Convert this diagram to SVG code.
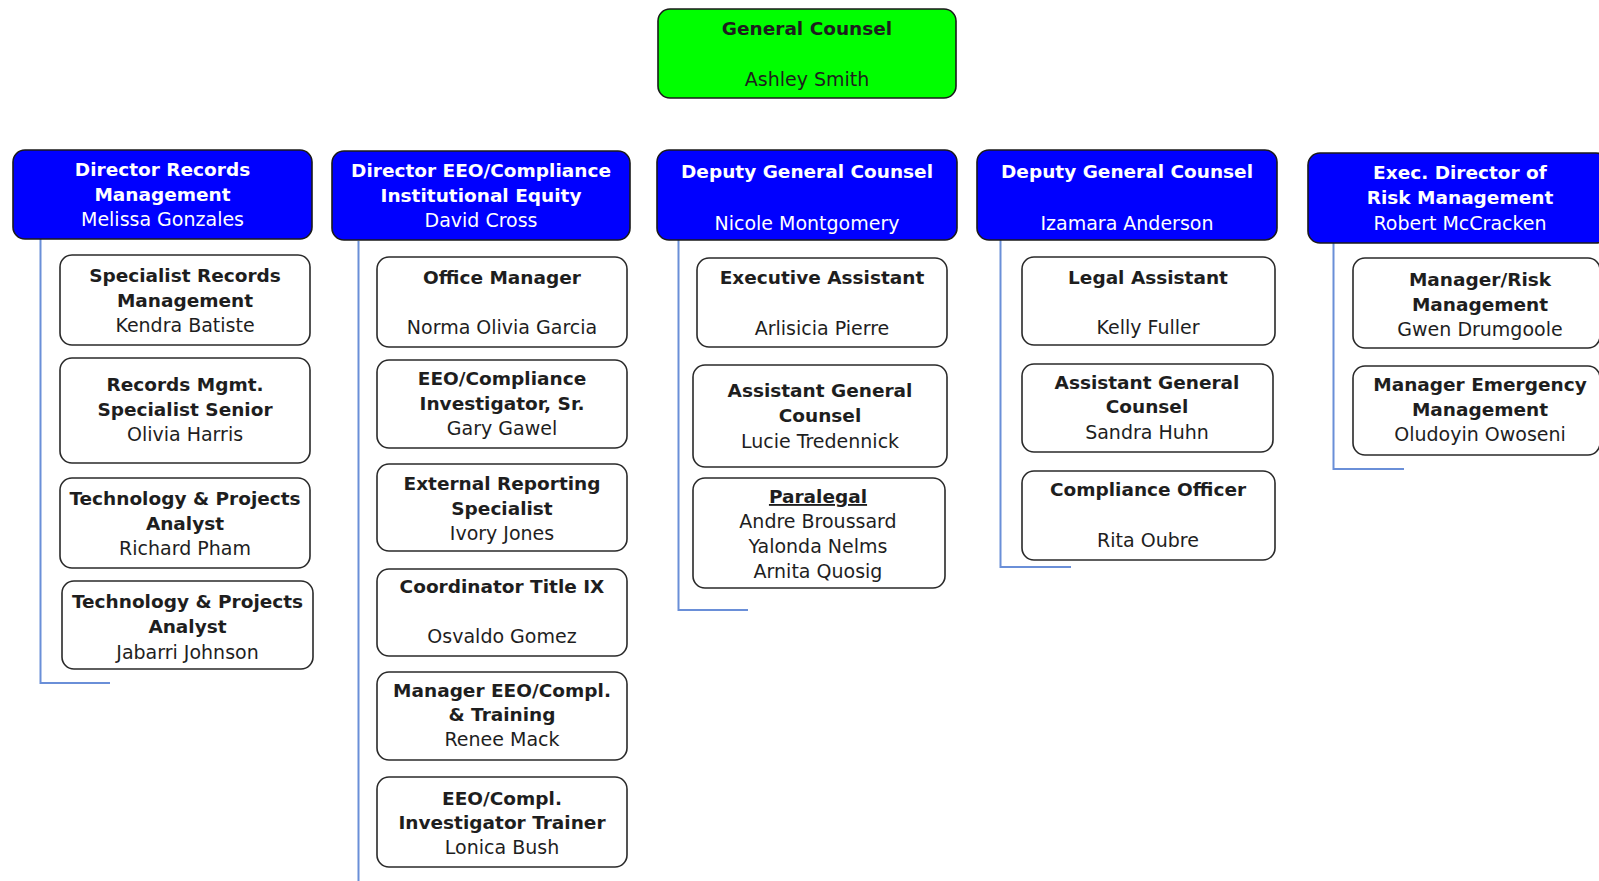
<svg xmlns="http://www.w3.org/2000/svg" width="1599" height="881" viewBox="0 0 1599 881">
<style>
.box{fill:#ffffff;stroke:#2a2a2a;stroke-width:1.6}
.hdr{fill:#0000ff;stroke:#1a1a1a;stroke-width:1.6}
.top{fill:#00ff00;stroke:#1a1a1a;stroke-width:1.6}
text{font-family:"DejaVu Sans",Verdana,sans-serif;font-size:19px;text-anchor:middle;fill:#1e1e1e}
.b{font-weight:bold;font-size:18.5px}
.w{fill:#ffffff}
.conn{fill:none;stroke:#6a8fd8;stroke-width:2}
</style>
<g id="connectors">
<path class="conn" d="M40.5 239 V683 H110"/>
<path class="conn" d="M358.5 241 V881"/>
<path class="conn" d="M678.5 240 V610 H748"/>
<path class="conn" d="M1000.5 240 V567 H1071"/>
<path class="conn" d="M1333.5 243 V469 H1404"/>
</g>
<g id="general-counsel">
<rect class="top" x="658" y="9" width="298" height="89" rx="12"/>
<text class="b" x="807" y="35">General Counsel</text>
<text x="807" y="86">Ashley Smith</text>
</g>
<g id="dir-records">
<rect class="hdr" x="13" y="150" width="299" height="89" rx="12"/>
<text class="b w" x="162.5" y="175.5">Director Records</text>
<text class="b w" x="162.5" y="200.5">Management</text>
<text class="w" x="162.5" y="225.5">Melissa Gonzales</text>
</g>
<g id="dir-eeo">
<rect class="hdr" x="332" y="151" width="298" height="89" rx="12"/>
<text class="b w" x="481" y="177">Director EEO/Compliance</text>
<text class="b w" x="481" y="202">Institutional Equity</text>
<text class="w" x="481" y="227">David Cross</text>
</g>
<g id="dgc-montgomery">
<rect class="hdr" x="657" y="150" width="300" height="90" rx="12"/>
<text class="b w" x="807" y="178">Deputy General Counsel</text>
<text class="w" x="807" y="229.5">Nicole Montgomery</text>
</g>
<g id="dgc-anderson">
<rect class="hdr" x="977" y="150" width="300" height="90" rx="12"/>
<text class="b w" x="1127" y="178">Deputy General Counsel</text>
<text class="w" x="1127" y="229.5">Izamara Anderson</text>
</g>
<g id="exec-risk">
<rect class="hdr" x="1308" y="153" width="300" height="90" rx="12"/>
<text class="b w" x="1460" y="179">Exec. Director of</text>
<text class="b w" x="1460" y="204">Risk Management</text>
<text class="w" x="1460" y="229.5">Robert McCracken</text>
</g>
<g id="specialist-records">
<rect class="box" x="60" y="255" width="250" height="90" rx="12"/>
<text class="b" x="185" y="281.5">Specialist Records</text>
<text class="b" x="185" y="306.5">Management</text>
<text x="185" y="331.5">Kendra Batiste</text>
</g>
<g id="records-specialist-senior">
<rect class="box" x="60" y="358" width="250" height="105" rx="12"/>
<text class="b" x="185" y="391">Records Mgmt.</text>
<text class="b" x="185" y="416">Specialist Senior</text>
<text x="185" y="441">Olivia Harris</text>
</g>
<g id="tech-pham">
<rect class="box" x="60" y="478" width="250" height="90" rx="12"/>
<text class="b" x="185" y="505">Technology &amp; Projects</text>
<text class="b" x="185" y="530">Analyst</text>
<text x="185" y="555">Richard Pham</text>
</g>
<g id="tech-johnson">
<rect class="box" x="62" y="581" width="251" height="88" rx="12"/>
<text class="b" x="187.5" y="608">Technology &amp; Projects</text>
<text class="b" x="187.5" y="633">Analyst</text>
<text x="187.5" y="658.5">Jabarri Johnson</text>
</g>
<g id="office-manager">
<rect class="box" x="377" y="257" width="250" height="90" rx="12"/>
<text class="b" x="502" y="283.5">Office Manager</text>
<text x="502" y="334">Norma Olivia Garcia</text>
</g>
<g id="eeo-investigator-sr">
<rect class="box" x="377" y="360" width="250" height="88" rx="12"/>
<text class="b" x="502" y="384.5">EEO/Compliance</text>
<text class="b" x="502" y="409.5">Investigator, Sr.</text>
<text x="502" y="434.5">Gary Gawel</text>
</g>
<g id="external-reporting">
<rect class="box" x="377" y="464" width="250" height="87" rx="12"/>
<text class="b" x="502" y="489.5">External Reporting</text>
<text class="b" x="502" y="514.5">Specialist</text>
<text x="502" y="539.5">Ivory Jones</text>
</g>
<g id="title-ix">
<rect class="box" x="377" y="569" width="250" height="87" rx="12"/>
<text class="b" x="502" y="593">Coordinator Title IX</text>
<text x="502" y="643">Osvaldo Gomez</text>
</g>
<g id="manager-eeo">
<rect class="box" x="377" y="672" width="250" height="88" rx="12"/>
<text class="b" x="502" y="697">Manager EEO/Compl.</text>
<text class="b" x="502" y="721">&amp; Training</text>
<text x="502" y="746">Renee Mack</text>
</g>
<g id="eeo-trainer">
<rect class="box" x="377" y="777" width="250" height="90" rx="12"/>
<text class="b" x="502" y="805">EEO/Compl.</text>
<text class="b" x="502" y="829">Investigator Trainer</text>
<text x="502" y="854">Lonica Bush</text>
</g>
<g id="executive-assistant">
<rect class="box" x="697" y="258" width="250" height="89" rx="12"/>
<text class="b" x="822" y="284">Executive Assistant</text>
<text x="822" y="334.5">Arlisicia Pierre</text>
</g>
<g id="agc-tredennick">
<rect class="box" x="693" y="365" width="254" height="102" rx="12"/>
<text class="b" x="820" y="397">Assistant General</text>
<text class="b" x="820" y="421.5">Counsel</text>
<text x="820" y="448">Lucie Tredennick</text>
</g>
<g id="paralegal">
<rect class="box" x="693" y="478" width="252" height="110" rx="12"/>
<text class="b" x="818" y="503" text-decoration="underline">Paralegal</text>
<text x="818" y="528">Andre Broussard</text>
<text x="818" y="553">Yalonda Nelms</text>
<text x="818" y="578">Arnita Quosig</text>
</g>
<g id="legal-assistant">
<rect class="box" x="1022" y="257" width="253" height="88" rx="12"/>
<text class="b" x="1148" y="283.5">Legal Assistant</text>
<text x="1148" y="334">Kelly Fuller</text>
</g>
<g id="agc-huhn">
<rect class="box" x="1022" y="364" width="251" height="88" rx="12"/>
<text class="b" x="1147" y="389">Assistant General</text>
<text class="b" x="1147" y="413">Counsel</text>
<text x="1147" y="439">Sandra Huhn</text>
</g>
<g id="compliance-officer">
<rect class="box" x="1022" y="471" width="253" height="89" rx="12"/>
<text class="b" x="1148" y="496">Compliance Officer</text>
<text x="1148" y="547">Rita Oubre</text>
</g>
<g id="manager-risk">
<rect class="box" x="1353" y="258" width="247" height="90" rx="12"/>
<text class="b" x="1480" y="286">Manager/Risk</text>
<text class="b" x="1480" y="311">Management</text>
<text x="1480" y="336">Gwen Drumgoole</text>
</g>
<g id="manager-emergency">
<rect class="box" x="1353" y="366" width="247" height="89" rx="12"/>
<text class="b" x="1480" y="391">Manager Emergency</text>
<text class="b" x="1480" y="415.5">Management</text>
<text x="1480" y="441">Oludoyin Owoseni</text>
</g>
</svg>
